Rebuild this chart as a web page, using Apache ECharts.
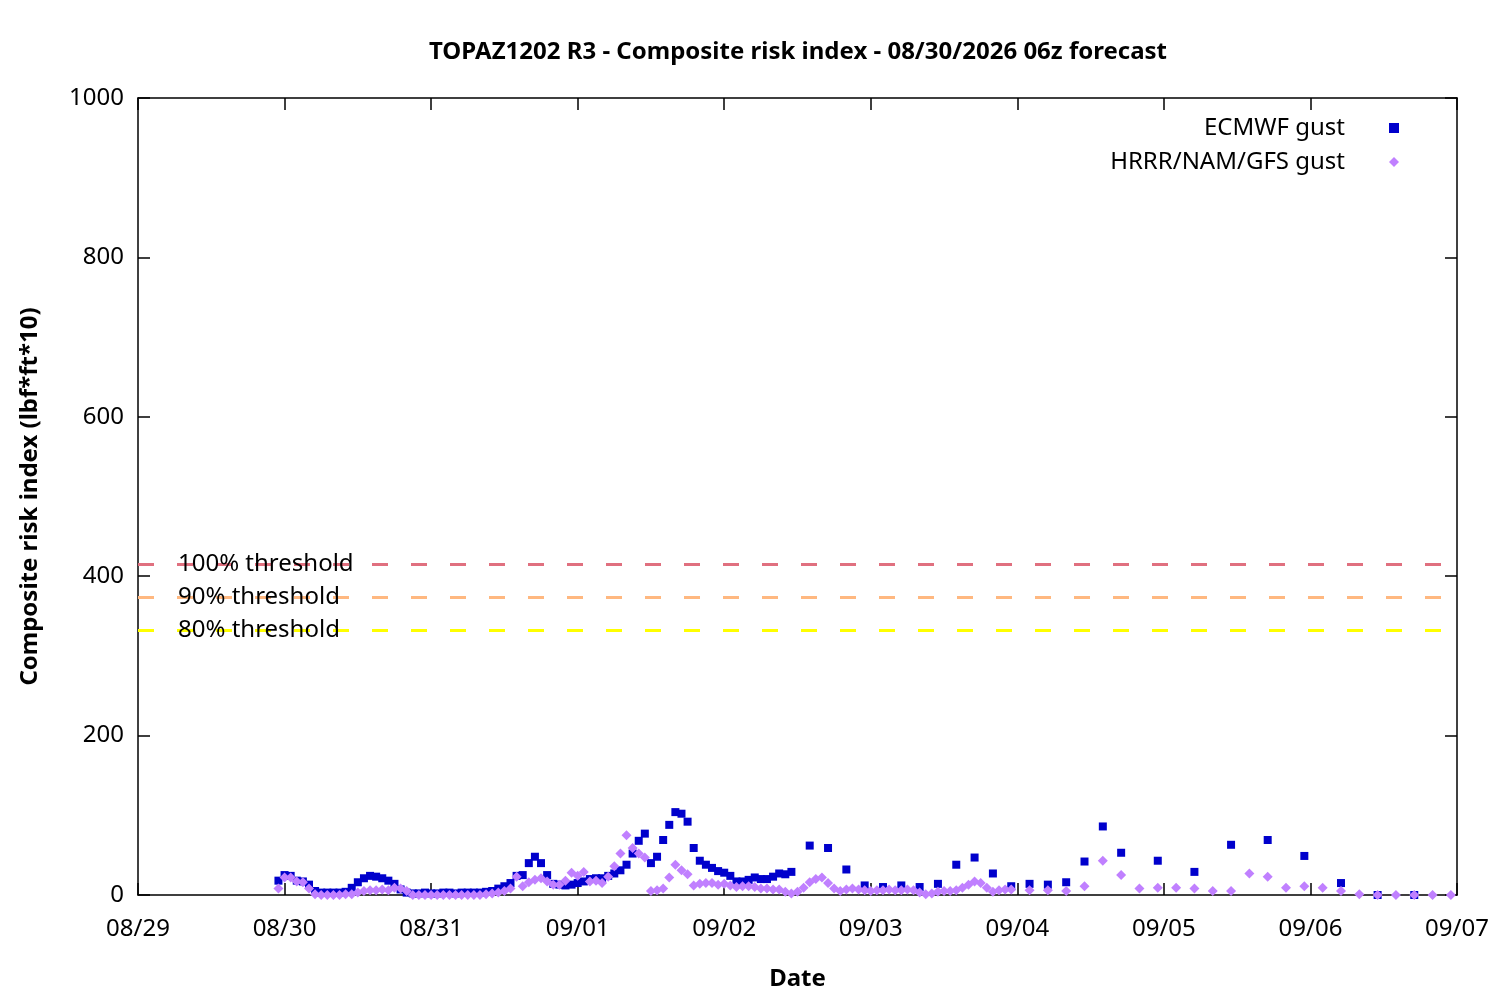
<!DOCTYPE html>
<html>
<head>
<meta charset="utf-8">
<script src="https://cdn.jsdelivr.net/npm/echarts@6/dist/echarts.min.js"></script>
<style>
html,body{margin:0;padding:0;background:#fff;}
#chart{width:1500px;height:1000px;}
</style>
</head>
<body>
<div id="chart"></div>
<script>
// x axis: hours since 08/29 00:00
const xTickLabels = ['08/29','08/30','08/31','09/01','09/02','09/03','09/04','09/05','09/06','09/07'];
const yTicks = [0, 200, 400, 600, 800, 1000];

// ECMWF gust: hourly from hour 23, then 3-hourly, then 6-hourly
const ecmwfHourlyStart = 23;
const ecmwfHourly = [18,25,24,18,17,13,5,3,3,3,
  3,4,9,16,21,24,23,21,18,14,
  7,3,2,2,3,2,2,3,3,2,
  3,3,3,3,4,5,8,11,15,24,
  25,40,48,40,25,14,13,12,13,15,
  17,20,21,21,24,27,31,38,52,68,
  77,40,48,69,88,104,102,92,59,43,
  38,34,30,28,24,17,17,19,22,20,
  20,23,27,26,29];
const ecmwf3hStart = 110;
const ecmwf3h = [62,59,32,12,10,12,10,14,38,47,27,11,14,13,16,42,86,53];
const ecmwf6hStart = 167;
const ecmwf6h = [43,29,63,69,49,15,0,0];

// HRRR/NAM/GFS gust: hourly from hour 23, then 3-hourly
const hrrrHourlyStart = 23;
const hrrrHourly = [8,22,22,17,16,8,1,0,0,0,
  0,1,1,3,5,6,6,7,6,9,
  8,5,0,0,0,0,0,0,0,0,
  0,0,0,0,1,2,3,5,8,23,
  11,16,19,21,17,13,13,18,28,24,
  29,17,18,15,23,36,52,75,59,52,
  47,5,6,8,22,38,31,26,12,14,
  15,15,13,14,12,10,11,11,10,8,
  8,7,7,4,2,4,9,16,20,22,
  15,8,5,7,8,7,6,5,6,6,
  7,6,6,7,6,3,1,2,4,5,
  5,6,9,13,17,15,9,4,6,7,
  7];
const hrrr3hStart = 146;
const hrrr3h = [6,6,5,11,43,25,8,9,9,8,5,5,27,23,9,11,9,5,1,0,0,0,0,0];

// thresholds
const thresholdNames = ['100% threshold','90% threshold','80% threshold'];
const thresholdValues = [415, 373.5, 332];
const thresholdColors = ['#e0707f','#ffb880','#ffff00'];

function build(start, step, arr){ return arr.map((v,i)=>[start + i*step, v]); }
const ecmwfData = [].concat(build(ecmwfHourlyStart,1,ecmwfHourly), build(ecmwf3hStart,3,ecmwf3h), build(ecmwf6hStart,6,ecmwf6h));
const hrrrData = [].concat(build(hrrrHourlyStart,1,hrrrHourly), build(hrrr3hStart,3,hrrr3h));

const FONT = 'Noto Sans';
const FS = 24;
const chart = echarts.init(document.getElementById('chart'));
const axisCommon = {
  axisLine:{show:true, onZero:false, lineStyle:{color:'#000', width:1.5}},
  axisTick:{show:true, inside:true, length:12, lineStyle:{color:'#000', width:1.5}},
  splitLine:{show:false}
};
chart.setOption({
  animation:false,
  backgroundColor:'#fff',
  title:{
    text:'TOPAZ1202 R3 - Composite risk index - 08/30/2026 06z forecast',
    left:793, textAlign:'center', top:35,
    textStyle:{fontFamily:FONT, fontWeight:'bold', fontSize:FS, color:'#000'}
  },
  legend:{
    orient:'vertical', right:96, top:110, align:'right',
    itemWidth:10, itemHeight:10, itemGap:8,
    textStyle:{fontFamily:FONT, fontSize:FS, color:'#000', padding:[0,39,0,0], lineHeight:26},
    data:[{name:'ECMWF gust', icon:'rect'},{name:'HRRR/NAM/GFS gust', icon:'diamond'}]
  },
  grid:{left:138, right:43, top:98, bottom:105},
  xAxis:[
    Object.assign({}, axisCommon, {
      type:'value', min:0, max:216, interval:24, position:'bottom',
      name:'Date', nameLocation:'middle', nameGap:72,
      nameTextStyle:{fontFamily:FONT, fontWeight:'bold', fontSize:FS, color:'#000'},
      axisLabel:{fontFamily:FONT, fontSize:FS, color:'#000', margin:22,
        formatter:(v)=>xTickLabels[Math.round(v/24)]}
    }),
    Object.assign({}, axisCommon, {
      type:'value', min:0, max:216, interval:24, position:'top',
      axisLabel:{show:false}
    })
  ],
  yAxis:[
    Object.assign({}, axisCommon, {
      type:'value', min:yTicks[0], max:yTicks[yTicks.length-1], interval:200, position:'left',
      name:'Composite risk index (lbf*ft*10)', nameLocation:'middle', nameGap:96, nameRotate:90,
      nameTextStyle:{fontFamily:FONT, fontWeight:'bold', fontSize:FS, color:'#000'},
      axisLabel:{fontFamily:FONT, fontSize:FS, color:'#000', margin:14, formatter:(v)=>String(v)}
    }),
    Object.assign({}, axisCommon, {
      type:'value', min:yTicks[0], max:yTicks[yTicks.length-1], interval:200, position:'right',
      axisLabel:{show:false}
    })
  ],
  series:[
    {
      name:'thresholds', type:'line', data:[], z:3,
      markLine:{
        silent:true, symbol:['none','none'], animation:false,
        data: thresholdValues.map((v,i)=>({
          yAxis:v, name:thresholdNames[i],
          lineStyle:{color:thresholdColors[i], type:[16,23], width:3, opacity:1},
          label:{show:true, position:'insideStart', formatter:'{b}', distance:40,
            padding:[3,0,0,0], fontFamily:FONT, fontSize:FS, color:'#000'}
        }))
      }
    },
    {
      name:'ECMWF gust', type:'scatter', data:ecmwfData,
      symbol:'rect', symbolSize:8, itemStyle:{color:'#0000cc', opacity:1}, z:4
    },
    {
      name:'HRRR/NAM/GFS gust', type:'scatter', data:hrrrData,
      symbol:'diamond', symbolSize:10, itemStyle:{color:'#c080ff', opacity:1}, z:5
    }
  ]
});
</script>
</body>
</html>
